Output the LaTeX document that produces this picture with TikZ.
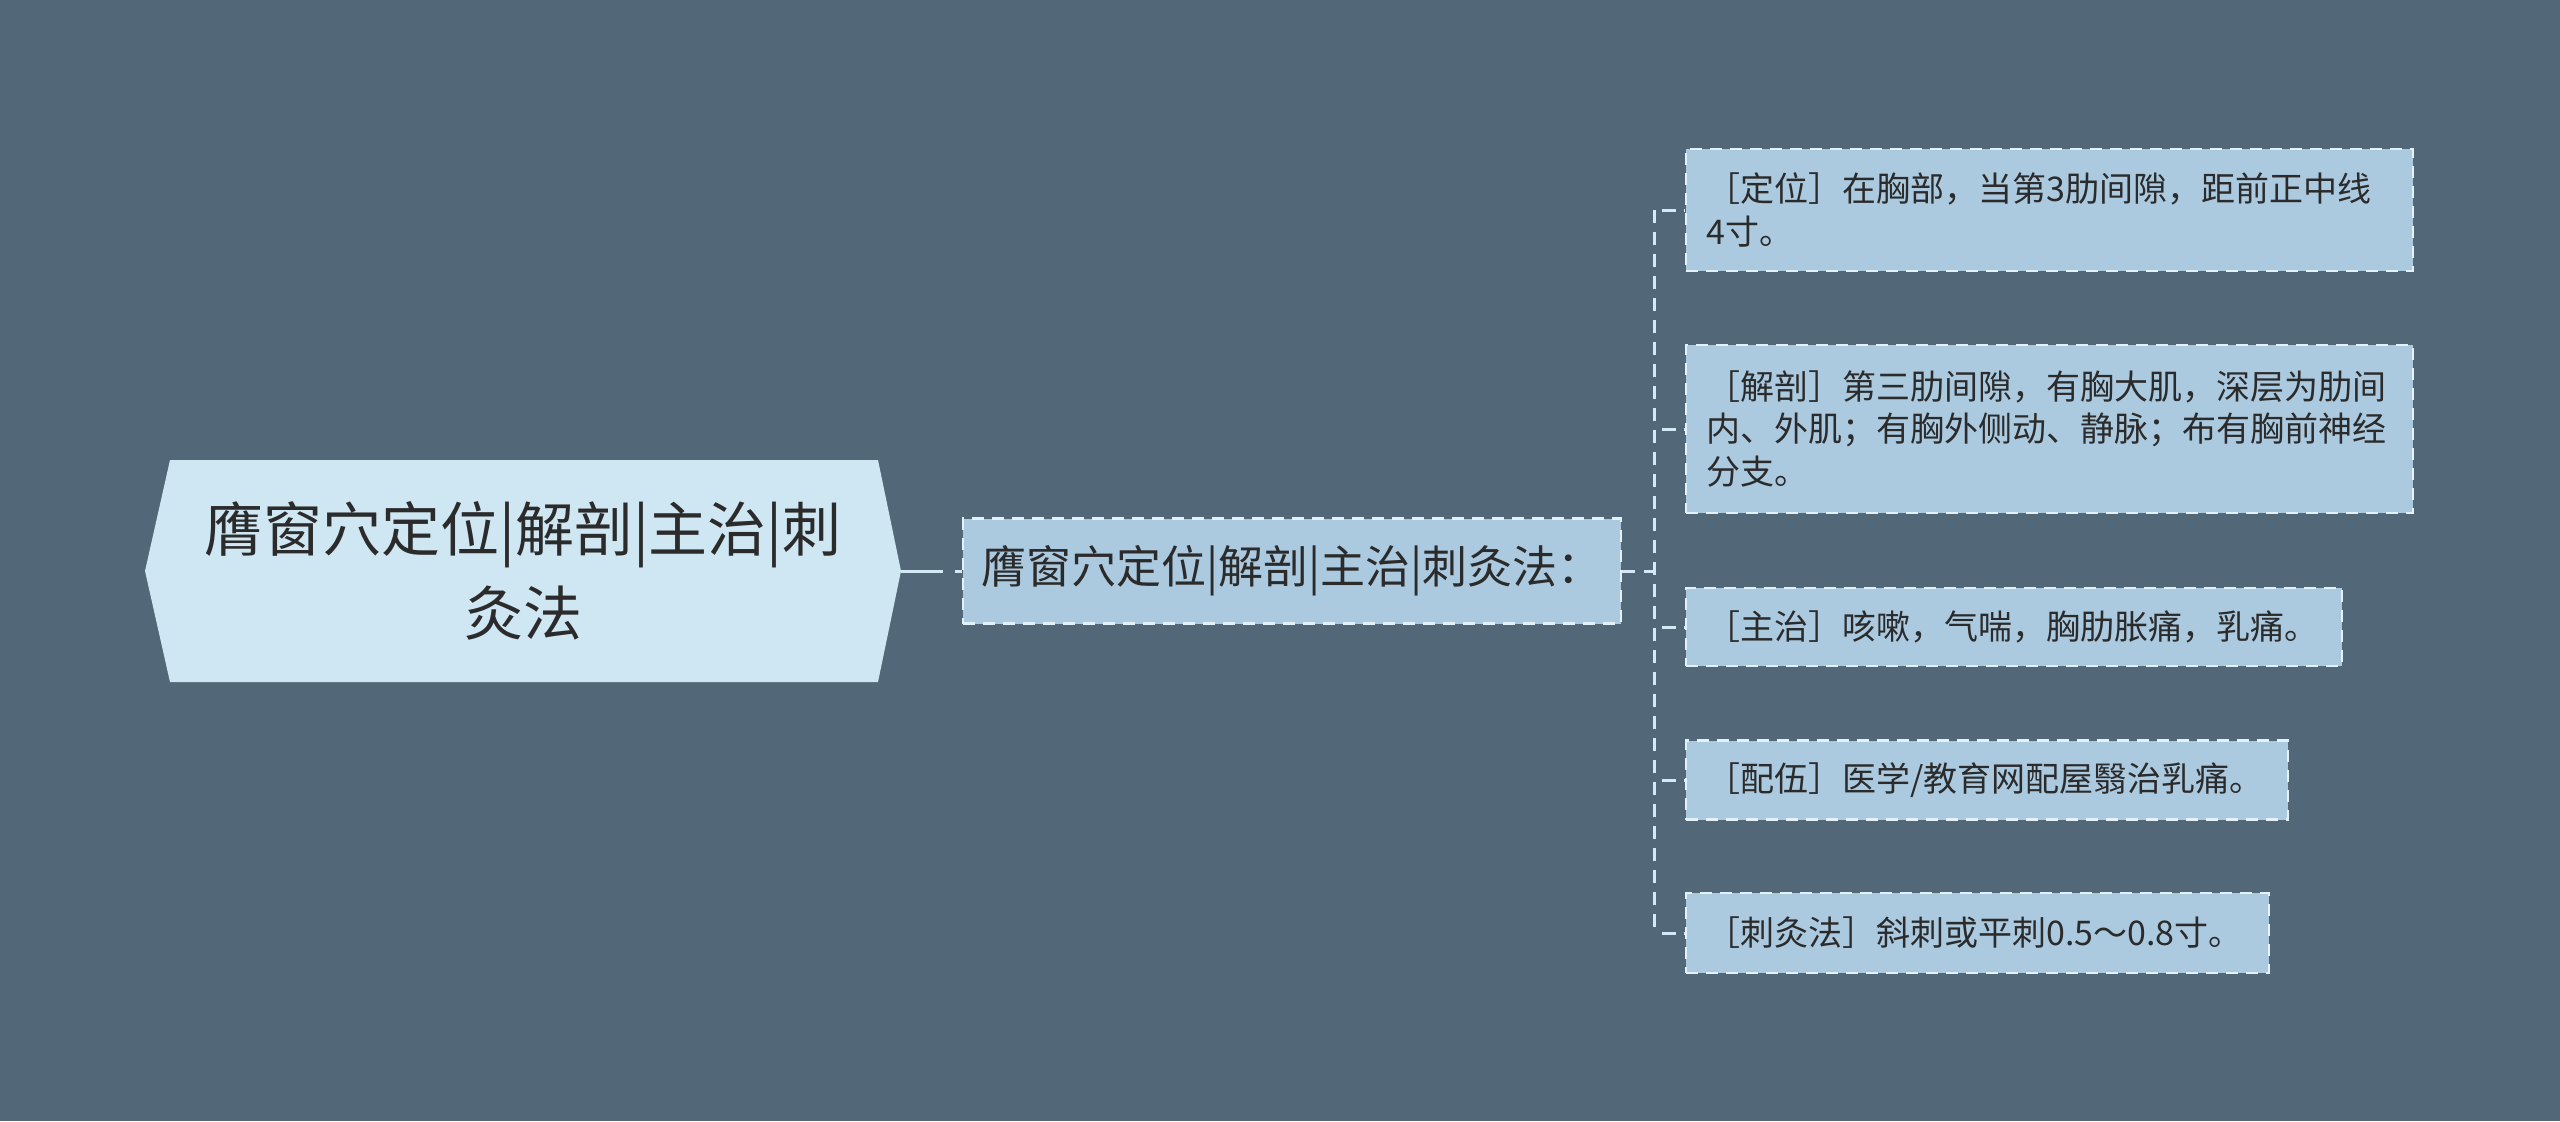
\documentclass[tikz,border=0pt]{standalone}
\usepackage{fontspec}
\newfontfamily\cjk{Noto Sans CJK SC}
\definecolor{bgcol}{HTML}{526878}
\definecolor{rootfill}{HTML}{CFE6F3}
\definecolor{leaffill}{HTML}{ABCAE0}
\definecolor{bordercol}{HTML}{E2F1FA}
\definecolor{linecol}{HTML}{D4E9F5}
\definecolor{textcol}{HTML}{2B2B2B}
\tikzset{
  leafbox/.style={draw=bordercol, line width=1.2pt, dash pattern=on 6pt off 4pt,
    fill=leaffill, text=textcol, anchor=west, inner xsep=10pt, inner ysep=0pt,
    align=left, font=\cjk\fontsize{17}{21.25}\selectfont},
  midbox/.style={draw=bordercol, line width=1.2pt, dash pattern=on 6pt off 4pt,
    fill=leaffill, text=textcol, inner sep=0pt, minimum width=329pt,
    minimum height=52.5pt, font=\cjk\fontsize{22.5}{27}\selectfont},
  rootbox/.style={text=textcol, inner sep=0pt, minimum width=378pt,
    minimum height=111pt, align=center, font=\cjk\fontsize{29.5}{42}\selectfont},
  link/.style={draw=linecol, line width=1.5pt},
  treeline/.style={draw=linecol, line width=1.5pt, dash pattern=on 6.5pt off 4.5pt},
  stub/.style={draw=linecol, line width=1.5pt, dash pattern=on 7pt off 4pt, dash phase=7pt}
}
\begin{document}
\begin{tikzpicture}[x=0.5pt,y=-0.5pt]
\fill[bgcol] (0,0) rectangle (2560,1121);
\useasboundingbox (0,0) rectangle (2560,1121);
% root hexagon
\fill[rootfill] (145,571) -- (170,460) -- (878,460) -- (901,571) -- (878,682) -- (170,682) -- cycle;
\node[rootbox] (root) at (523,571) {膺窗穴定位|解剖|主治|刺\\灸法};
\node[midbox] (mid) at (1292,571) {膺窗穴定位|解剖|主治|刺灸法：};
\node[leafbox, text width=343.5pt, minimum height=61pt] (l1) at (1685,210)
  {［定位］在胸部，当第3肋间隙，距前正中线\\4寸。};
\node[leafbox, text width=343.5pt, minimum height=84pt] (l2) at (1685,429)
  {［解剖］第三肋间隙，有胸大肌，深层为肋间\\内、外肌；有胸外侧动、静脉；布有胸前神经\\分支。};
\node[leafbox, text width=308pt, minimum height=39pt] (l3) at (1685,627)
  {［主治］咳嗽，气喘，胸肋胀痛，乳痛。};
\node[leafbox, text width=281pt, minimum height=39.5pt] (l4) at (1685,780)
  {［配伍］医学/教育网配屋翳治乳痛。};
\node[leafbox, text width=271.5pt, minimum height=40pt] (l5) at (1685,933)
  {［刺灸法］斜刺或平刺0.5～0.8寸。};
% connectors
\draw[link, dash pattern=on 21pt off 6pt] (root.east) -- (mid.west);
\coordinate (j) at (1654,571);
\draw[treeline] (mid.east) -- (j);
\draw[treeline] (j |- l1.west) -- (j |- l5.west);
\foreach \k in {1,...,5} {
  \draw[stub] (j |- l\k.west) -- (l\k.west);
}
\end{tikzpicture}
\end{document}
